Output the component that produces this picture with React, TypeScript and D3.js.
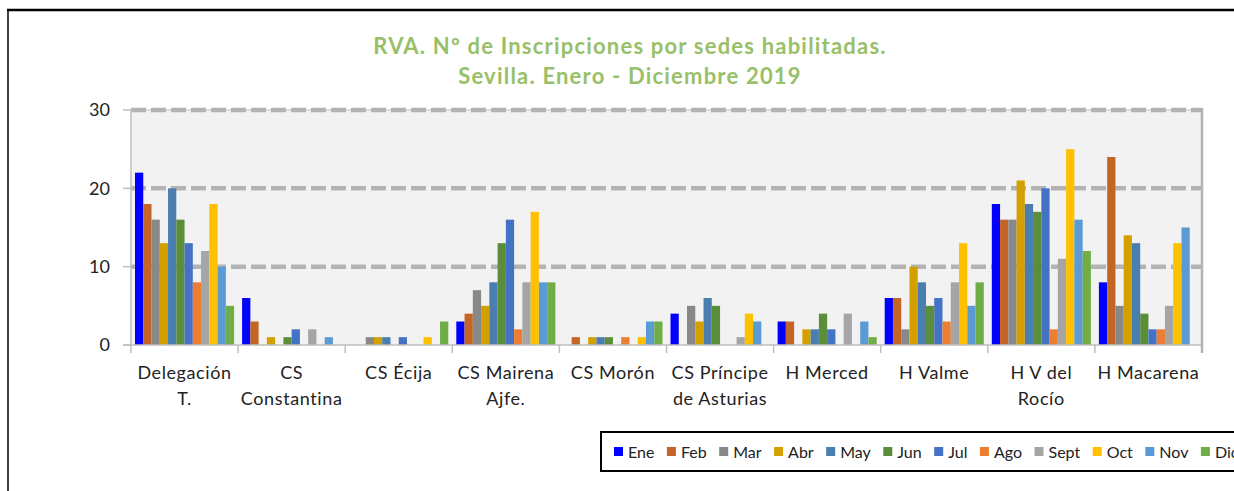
import React, { useRef, useEffect } from "react";
import * as d3 from "d3";

// categories (two-line labels split with "|")
const sedes = [
  "Delegación|T.",
  "CS|Constantina",
  "CS Écija",
  "CS Mairena|Ajfe.",
  "CS Morón",
  "CS Príncipe|de Asturias",
  "H Merced",
  "H Valme",
  "H V del|Rocío",
  "H Macarena",
];

const meses = ["Ene", "Feb", "Mar", "Abr", "May", "Jun", "Jul", "Ago", "Sept", "Oct", "Nov", "Dic"];

const colores = [
  "#0000ff", "#c46528", "#888888", "#d4a000", "#4a7eb0", "#5a8e3a",
  "#4472c4", "#ed7d31", "#a5a5a5", "#ffc000", "#5b9bd5", "#70ad47",
];

// one row per month, one value per sede
const ene = [22, 6, 0, 3, 0, 4, 3, 6, 18, 8];
const feb = [18, 3, 0, 4, 1, 0, 3, 6, 16, 24];
const mar = [16, 0, 1, 7, 0, 5, 0, 2, 16, 5];
const abr = [13, 1, 1, 5, 1, 3, 2, 10, 21, 14];
const may = [20, 0, 1, 8, 1, 6, 2, 8, 18, 13];
const jun = [16, 1, 0, 13, 1, 5, 4, 5, 17, 4];
const jul = [13, 2, 1, 16, 0, 0, 2, 6, 20, 2];
const ago = [8, 0, 0, 2, 1, 0, 0, 3, 2, 2];
const sept = [12, 2, 0, 8, 0, 1, 4, 8, 11, 5];
const oct = [18, 0, 1, 17, 1, 4, 0, 13, 25, 13];
const nov = [10, 1, 0, 8, 3, 3, 3, 5, 16, 15];
const dic = [5, 0, 3, 8, 3, 0, 1, 8, 12, 0];

const series = [ene, feb, mar, abr, may, jun, jul, ago, sept, oct, nov, dic];
const yTicks = [0, 10, 20, 30];

const titulo1 = "RVA. Nº de Inscripciones por sedes habilitadas.";
const titulo2 = "Sevilla. Enero - Diciembre 2019";

const FONT = "Lato, 'Open Sans', sans-serif";

const App = () => {
  const svgRef = useRef<SVGSVGElement>(null);

  useEffect(() => {
    const svg = d3.select(svgRef.current);
    svg.selectAll("*").remove();

    const W = 1234, H = 491;
    const plot = { left: 131, right: 1202, top: 110, bottom: 345 };

    svg.attr("width", W).attr("height", H);
    svg.append("rect").attr("width", W).attr("height", H).attr("fill", "#fff");

    // outer frame
    svg.append("line").attr("x1", 7).attr("x2", W).attr("y1", 10).attr("y2", 10)
      .attr("stroke", "#000").attr("stroke-width", 2.5);
    svg.append("line").attr("x1", 8).attr("x2", 8).attr("y1", 9).attr("y2", H)
      .attr("stroke", "#000").attr("stroke-width", 1.5);

    // title
    const title = svg.append("text")
      .attr("text-anchor", "middle")
      .attr("font-family", FONT)
      .attr("font-weight", "bold")
      .attr("font-size", 22)
      .attr("letter-spacing", 1.2)
      .attr("fill", "#98c068");
    title.append("tspan").attr("x", 630).attr("y", 54).text(titulo1);
    title.append("tspan").attr("x", 630).attr("y", 84).text(titulo2);

    const x = d3.scaleBand().domain(sedes).range([plot.left, plot.right]);
    const xm = d3.scaleBand().domain(meses).range([4, x.bandwidth() - 4]);
    const y = d3.scaleLinear().domain([0, 30]).range([plot.bottom, plot.top]);

    // plot background
    svg.append("rect")
      .attr("x", plot.left).attr("y", plot.top)
      .attr("width", plot.right - plot.left).attr("height", plot.bottom - plot.top)
      .attr("fill", "#f2f2f2");

    svg.append("line")
      .attr("x1", plot.left).attr("x2", plot.right)
      .attr("y1", plot.top).attr("y2", plot.top)
      .attr("stroke", "#bfbfbf").attr("stroke-width", 1);

    // dashed gridlines
    svg.append("g").selectAll("line")
      .data(yTicks.filter(d => d > 0))
      .enter().append("line")
      .attr("x1", plot.left).attr("x2", plot.right)
      .attr("y1", d => y(d)).attr("y2", d => y(d))
      .attr("stroke", "#b3b3b3").attr("stroke-width", 4.5)
      .attr("stroke-dasharray", "15,5");

    // bars
    const groups = svg.append("g").selectAll("g")
      .data(sedes)
      .enter().append("g")
      .attr("transform", d => `translate(${x(d)},0)`);

    groups.selectAll("rect")
      .data((_, i) => series.map((s, m) => ({ mes: meses[m], v: s[i], c: colores[m] })))
      .enter().append("rect")
      .attr("x", d => xm(d.mes)!)
      .attr("width", xm.bandwidth())
      .attr("y", d => y(d.v))
      .attr("height", d => plot.bottom - y(d.v))
      .attr("fill", d => d.c);

    // axes
    const axisColor = "#bfbfbf";
    svg.append("line").attr("x1", plot.left).attr("x2", plot.left)
      .attr("y1", plot.top).attr("y2", plot.bottom + 8)
      .attr("stroke", axisColor).attr("stroke-width", 1.5);
    svg.append("line").attr("x1", plot.left - 8).attr("x2", plot.right)
      .attr("y1", plot.bottom).attr("y2", plot.bottom)
      .attr("stroke", axisColor).attr("stroke-width", 1.5);
    svg.append("line").attr("x1", plot.right).attr("x2", plot.right)
      .attr("y1", plot.top - 2).attr("y2", plot.bottom + 8)
      .attr("stroke", "#b3b3b3").attr("stroke-width", 2.5);

    svg.append("g").selectAll("line")
      .data(yTicks)
      .enter().append("line")
      .attr("x1", plot.left - 8).attr("x2", plot.left)
      .attr("y1", d => y(d)).attr("y2", d => y(d))
      .attr("stroke", axisColor).attr("stroke-width", 1.5);

    svg.append("g").selectAll("text")
      .data(yTicks)
      .enter().append("text")
      .attr("x", 110).attr("y", d => y(d))
      .attr("dy", "0.35em")
      .attr("text-anchor", "end")
      .attr("font-family", FONT)
      .attr("font-size", 18)
      .attr("fill", "#222")
      .text(d => d);

    svg.append("g").selectAll("line")
      .data(sedes.slice(1))
      .enter().append("line")
      .attr("x1", d => x(d)!).attr("x2", d => x(d)!)
      .attr("y1", plot.bottom).attr("y2", plot.bottom + 8)
      .attr("stroke", axisColor).attr("stroke-width", 1.5);

    const labels = svg.append("g").selectAll("text")
      .data(sedes)
      .enter().append("text")
      .attr("text-anchor", "middle")
      .attr("font-family", FONT)
      .attr("font-size", 18)
      .attr("letter-spacing", 0.6)
      .attr("fill", "#222");
    labels.each(function (d) {
      const t = d3.select(this);
      d.split("|").forEach((line, i) => {
        t.append("tspan")
          .attr("x", x(d)! + x.bandwidth() / 2)
          .attr("y", 379 + i * 26)
          .text(line);
      });
    });

    // legend
    svg.append("rect")
      .attr("x", 601).attr("y", 432)
      .attr("width", 660).attr("height", 39)
      .attr("fill", "#fff").attr("stroke", "#000").attr("stroke-width", 2);

    let lx = 614;
    meses.forEach((m, i) => {
      svg.append("rect")
        .attr("x", lx).attr("y", 447)
        .attr("width", 9).attr("height", 9)
        .attr("fill", colores[i]);
      const t = svg.append("text")
        .attr("x", lx + 14).attr("y", 452)
        .attr("dy", "0.35em")
        .attr("font-family", FONT)
        .attr("font-size", 16)
        .attr("fill", "#222")
        .text(m);
      const w = (t.node() as SVGTextElement).getComputedTextLength();
      lx += 14 + w + 12.5;
    });
  }, []);

  return (
    <div style={{ position: "absolute", left: 0, top: 0 }}>
      <svg ref={svgRef} style={{ display: "block" }}></svg>
    </div>
  );
};

export default App;
